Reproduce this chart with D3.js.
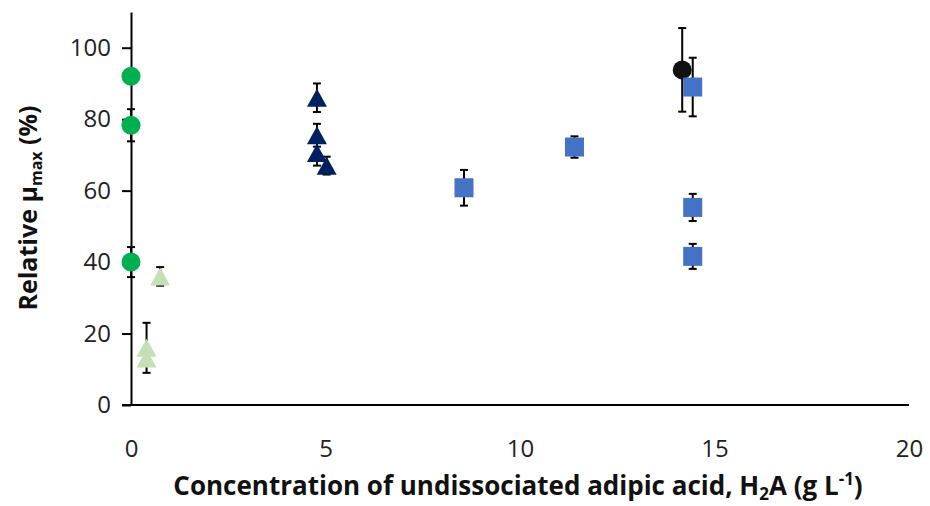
<!DOCTYPE html>
<html><head><meta charset="utf-8">
<script src="https://cdn.jsdelivr.net/npm/d3@7"></script>
<style>body{margin:0;background:#fff}svg{display:block}text{font-family:"Open Sans",sans-serif}</style>
</head><body><svg id="c" width="930" height="506"></svg>
<script>
// Data
const xTicks = [0, 5, 10, 15, 20];
const yTicks = [0, 20, 40, 60, 80, 100];

const greenCircleX = [0, 0, 0];
const greenCircleY = [92, 78.3, 40];
const greenCircleErr = [0, 4.5, 4.2];

const lightTriX = [0.75, 0.4, 0.4];
const lightTriY = [36, 16, 13];
const lightTriErr = [2.6, 7, 0];

const navyTriX = [4.78, 4.78, 4.78, 5.03];
const navyTriY = [86, 75.5, 70.5, 67];
const navyTriErr = [4, 3.2, 3.5, 2.5];

const blackCircleX = [14.17];
const blackCircleY = [93.8];
const blackCircleErr = [11.7];

const squareX = [8.56, 11.4, 14.44, 14.44, 14.44];
const squareY = [60.8, 72.2, 89, 55.3, 41.6];
const squareErr = [5, 3, 8.2, 3.8, 3.5];

const svg = d3.select("#c");
const x = d3.scaleLinear().domain([0, 20]).range([131, 909]);
const y = d3.scaleLinear().domain([0, 110]).range([405, 12]);

const series = [
  {xs: greenCircleX, ys: greenCircleY, es: greenCircleErr, shape: "circle", color: "#00b050"},
  {xs: lightTriX, ys: lightTriY, es: lightTriErr, shape: "tri", color: "#c5e0b4"},
  {xs: navyTriX, ys: navyTriY, es: navyTriErr, shape: "tri", color: "#002060"},
  {xs: blackCircleX, ys: blackCircleY, es: blackCircleErr, shape: "circle", color: "#111111"},
  {xs: squareX, ys: squareY, es: squareErr, shape: "square", color: "#4472c4"}
];

// Axes
const yAxis = d3.axisLeft(y).tickValues(yTicks).tickSize(9).tickPadding(11).tickSizeOuter(0);
const gy = svg.append("g").attr("transform", `translate(${x(0)},0)`).call(yAxis);
gy.select(".domain").attr("stroke", "#000").attr("stroke-width", 2);
gy.selectAll(".tick line").attr("stroke", "#000").attr("stroke-width", 2);
gy.selectAll(".tick text").attr("font-size", 24).attr("fill", "#222")
  .style("font-family", '"Open Sans",sans-serif');

const xAxis = d3.axisBottom(x).tickValues(xTicks).tickSize(0).tickPadding(35).tickSizeOuter(0);
const gx = svg.append("g").attr("transform", `translate(0,${y(0)})`).call(xAxis);
gx.select(".domain").attr("stroke", "#000").attr("stroke-width", 2).attr("d", `M${x(0)-9},0H${x(20)}`);
gx.selectAll(".tick text").attr("font-size", 24).attr("fill", "#222")
  .style("font-family", '"Open Sans",sans-serif');

// Error bars
const eb = svg.append("g");
series.forEach(s => {
  s.xs.forEach((xv, i) => {
    const e = s.es[i];
    if (!e) return;
    const cx = x(xv), y1 = y(s.ys[i] + e), y2 = y(s.ys[i] - e);
    eb.append("line").attr("x1", cx).attr("x2", cx).attr("y1", y1).attr("y2", y2).attr("stroke", "#000").attr("stroke-width", 2);
    [y1, y2].forEach(yy => eb.append("line").attr("x1", cx - 4).attr("x2", cx + 4).attr("y1", yy).attr("y2", yy).attr("stroke", "#000").attr("stroke-width", 2));
  });
});

// Markers
const mk = svg.append("g");
series.forEach(s => {
  s.xs.forEach((xv, i) => {
    const cx = x(xv), cy = y(s.ys[i]);
    if (s.shape === "circle") {
      mk.append("circle").attr("cx", cx).attr("cy", cy).attr("r", 9.5).attr("fill", s.color);
    } else if (s.shape === "square") {
      mk.append("rect").attr("x", cx - 9.5).attr("y", cy - 9.5).attr("width", 19).attr("height", 19).attr("fill", s.color);
    } else {
      mk.append("path").attr("d", `M${cx},${cy - 9}L${cx + 10},${cy + 9}L${cx - 10},${cy + 9}Z`).attr("fill", s.color);
    }
  });
});

// Titles
const yt = svg.append("text").attr("transform", "translate(37,208) rotate(-90)").attr("text-anchor", "middle")
  .attr("font-size", 25).attr("font-weight", "bold").attr("fill", "#111");
yt.append("tspan").text("Relative μ");
yt.append("tspan").attr("font-size", 16).attr("dy", 5).text("max");
yt.append("tspan").attr("dy", -5).text(" (%)");

const xt = svg.append("text").attr("x", 518).attr("y", 495).attr("text-anchor", "middle")
  .attr("font-size", 26).attr("font-weight", "bold").attr("fill", "#111");
xt.append("tspan").text("Concentration of undissociated adipic acid, H");
xt.append("tspan").attr("font-size", 17).attr("dy", 5).text("2");
xt.append("tspan").attr("dy", -5).text("A (g L");
xt.append("tspan").attr("font-size", 17).attr("dy", -10).text("-1");
xt.append("tspan").attr("dy", 10).text(")");
</script></body></html>
